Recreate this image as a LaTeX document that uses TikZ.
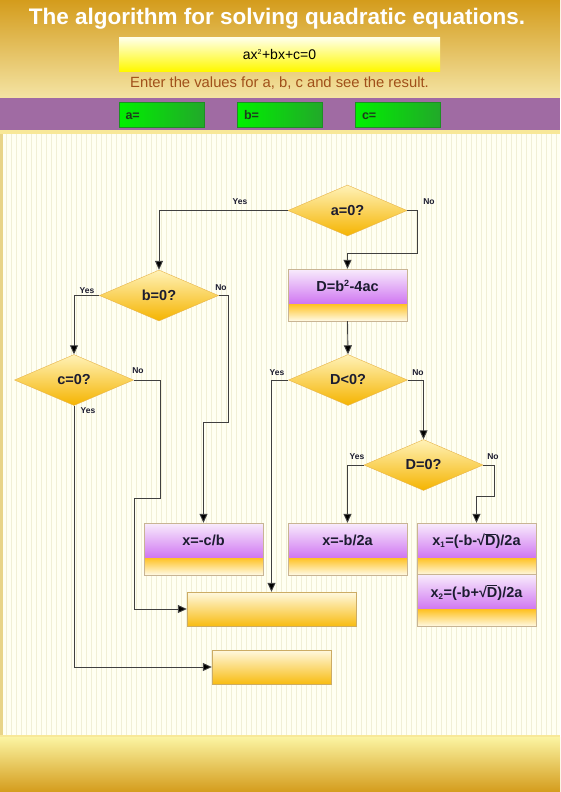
\documentclass[tikz,border=0pt]{standalone}
\usepackage{fontspec}
\setmainfont{Liberation Sans}
\usetikzlibrary{shapes.geometric,arrows.meta,calc}
\definecolor{headTop}{HTML}{D49C1C}
\definecolor{headBot}{HTML}{F4E4A4}
\definecolor{bandPurple}{HTML}{A06BA3}
\definecolor{sepYellow}{HTML}{F8E898}
\definecolor{mainBg}{HTML}{FFFFF2}
\definecolor{stripe}{HTML}{F1EFD6}
\definecolor{leftStrip}{HTML}{E8D488}
\definecolor{greenL}{HTML}{00F000}
\definecolor{greenR}{HTML}{22A82A}
\definecolor{greenTxt}{HTML}{1E3A1E}
\definecolor{enterCol}{HTML}{A0501A}
\definecolor{purpTop}{HTML}{F8ECFC}
\definecolor{purpBot}{HTML}{BC3CEC}
\definecolor{orTop}{HTML}{FFC224}
\definecolor{orBot}{HTML}{FFFAE6}
\definecolor{boxBorder}{HTML}{C8B494}
\definecolor{diaTop}{HTML}{FFF2B8}
\definecolor{diaBot}{HTML}{F5B400}
\definecolor{diaBorder}{HTML}{E8B448}
\definecolor{eTop}{HTML}{FFF9E0}
\definecolor{eBot}{HTML}{F8BC12}
\definecolor{eBorder}{HTML}{CCAC64}
\definecolor{lineCol}{HTML}{404040}
\definecolor{txtCol}{HTML}{1C1C30}
\definecolor{botTop}{HTML}{FBF4A2}
\tikzset{
  decision/.style={diamond, draw=diaBorder, top color=diaTop, bottom color=diaBot,
    minimum width=119pt, minimum height=51pt, inner sep=0pt, aspect=2.3,
    font=\fontsize{14.5}{16}\selectfont\bfseries, text=txtCol},
  procbox/.style={rectangle, draw=boxBorder, minimum width=119pt, minimum height=52pt, inner sep=0pt,
    font=\fontsize{14.5}{16}\selectfont\bfseries, text=txtCol, text height=10pt, text depth=17pt,
    path picture={
      \shade[top color=purpTop, bottom color=purpBot] (path picture bounding box.north west) rectangle ([yshift=17pt]path picture bounding box.south east);
      \shade[top color=orTop, bottom color=orBot] ([yshift=17pt]path picture bounding box.south west) rectangle (path picture bounding box.south east);
    }},
  endbox/.style={rectangle, draw=eBorder, top color=eTop, bottom color=eBot, inner sep=0pt},
  greenfield/.style={rectangle, draw=greenR!85!black, left color=greenL, right color=greenR,
    minimum width=85pt, minimum height=25pt, inner sep=0pt, text=greenTxt,
    font=\fontsize{12.5}{14}\selectfont\bfseries, align=left, text width=72pt,
    text height=9pt, text depth=0pt},
  conn/.style={draw=lineCol, line width=0.9pt},
  arr/.style={conn, -{Triangle[width=8pt,length=9pt,fill=black]}},
  lbl/.style={font=\fontsize{8.5}{10}\selectfont\bfseries, text=txtCol, inner sep=0pt},
}
\begin{document}
\begin{tikzpicture}[x=1pt,y=-1pt]
\useasboundingbox (0,0) rectangle (560,792);
% header
\shade[top color=headTop, bottom color=headBot] (0,0) rectangle (560,98);
\fill[bandPurple] (0,98) rectangle (560,130);
\fill[sepYellow] (0,130) rectangle (560,134);
% main area
\fill[mainBg] (0,134) rectangle (560,736);
\foreach \x in {6,11,...,558} { \draw[stripe, line width=0.9pt] (\x,134) -- (\x,736); }
\fill[leftStrip] (0,134) rectangle (3,736);
\fill[sepYellow] (0,735) rectangle (560,737);
\shade[top color=botTop, bottom color=headTop] (0,737) rectangle (560,792);
% header content
\node[text=white, font=\fontsize{22.5}{26}\selectfont\bfseries, inner sep=0pt] (title) at (277,19) {The algorithm for solving quadratic equations.};
\node[rectangle, top color=yellow!10!white, bottom color=yellow!95!orange, minimum width=321pt, minimum height=33pt, inner sep=0pt, font=\fontsize{14}{16}\selectfont] (eq) at (279.5,54.5) {ax\textsuperscript{\fontsize{7}{8}\selectfont 2}+bx+c=0};
\node[text=enterCol, font=\fontsize{14.8}{17}\selectfont, inner sep=0pt] (enter) at (279.5,83) {Enter the values for a, b, c and see the result.};
\node[greenfield] (fa) at (161.5,114.5) {a=};
\node[greenfield] (fb) at (280,114.5) {b=};
\node[greenfield] (fc) at (398,114.5) {c=};
% flowchart nodes
\node[decision] (a0) at (347.5,210.5) {a=0?};
\node[decision] (b0) at (159,295.5) {b=0?};
\node[decision] (c0) at (74,380) {c=0?};
\node[decision] (dl) at (348,380) {D<0?};
\node[decision] (d0) at (423.5,465) {D=0?};
\node[procbox] (D) at (347.5,295) {D=b\textsuperscript{\fontsize{9}{10}\selectfont 2}-4ac};
\node[procbox] (xcb) at (203.5,549) {x=-c/b};
\node[procbox] (xba) at (347.5,549) {x=-b/2a};
\node[procbox] (x1) at (476.5,549) {x\textsubscript{\fontsize{8}{9}\selectfont 1}=(-b-√$\overline{\mbox{D}}$)/2a};
\node[procbox] (x2) at (476.5,600.5) {x\textsubscript{\fontsize{8}{9}\selectfont 2}=(-b+√$\overline{\mbox{D}}$)/2a};
\node[endbox, minimum width=169pt, minimum height=34pt] (e1) at (271.5,609) {};
\node[endbox, minimum width=119pt, minimum height=34pt] (e2) at (271.5,667) {};
% connectors
\draw[arr] (a0.west) -| (b0.north);
\draw[arr] (a0.east) -- ++(10,0) -- ++(0,43) -| (D.north);
\draw[arr] (D.south) -- (dl.north);
\draw[arr] (b0.west) -| (c0.north);
\draw[arr] (b0.east) -- ++(10,0) -- ++(0,127) -| (xcb.north);
\draw[arr] (c0.east) -- ++(27,0) -- ++(0,118) -- ++(-26,0) |- (e1.west);
\draw[arr] (c0.south) |- (e2.west);
\draw[arr] (dl.west) -| (e1.north);
\draw[arr] (dl.east) -| (d0.north);
\draw[arr] (d0.west) -| (xba.north);
\draw[arr] (d0.east) -- ++(11,0) -- ++(0,31) -| (x1.north);
% labels
\node[lbl] (la0y) at (240,202) {Yes};
\node[lbl] (la0n) at (429,202) {No};
\node[lbl] (lb0y) at (87,291) {Yes};
\node[lbl] (lb0n) at (221,288) {No};
\node[lbl] (lc0n) at (138,371) {No};
\node[lbl] (lc0y) at (88,411) {Yes};
\node[lbl] (ldly) at (277,373) {Yes};
\node[lbl] (ldln) at (418,373) {No};
\node[lbl] (ld0y) at (357,457) {Yes};
\node[lbl] (ld0n) at (493,457) {No};
\end{tikzpicture}
\end{document}
